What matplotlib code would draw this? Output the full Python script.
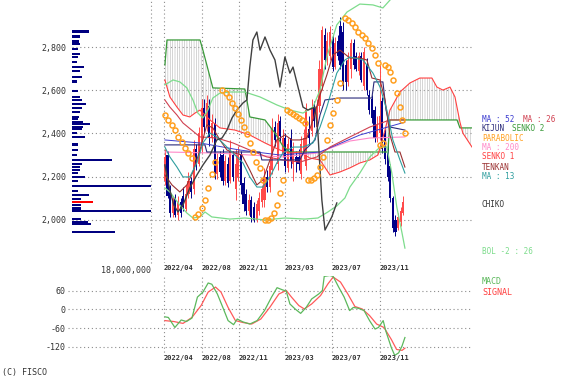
import matplotlib
matplotlib.use("Agg")
import matplotlib.pyplot as plt
from matplotlib.transforms import blended_transform_factory

# weekly candles, week index 0 = first bar on the chart
opens = [2180, 2300, 2140, 2030, 2100, 2020, 2080, 2110, 2050, 2120, 2180, 2140, 2330, 2260, 2350, 2520,
         2440, 2530, 2380, 2450, 2210, 2290, 2300, 2180, 2260, 2180, 2300, 2140, 2200, 2300, 2170, 2120,
         2040, 2090, 2060, 2000, 2040, 2080, 2090, 2200, 2150, 2230, 2430, 2260, 2460, 2310, 2380, 2240,
         2380, 2260, 2290, 2290, 2210, 2300, 2250, 2420, 2410, 2520, 2430, 2530, 2620, 2860, 2740, 2760,
         2840, 2710, 2830, 2900, 2870, 2720, 2640, 2700, 2820, 2760, 2690, 2760, 2620, 2720, 2580, 2560,
         2510, 2380, 2400, 2550, 2400, 2330, 2250, 2100, 2000, 1960, 1990, 2030]
highs = [2330, 2320, 2160, 2110, 2120, 2110, 2100, 2150, 2160, 2220, 2200, 2370, 2350, 2430, 2560, 2560,
         2580, 2560, 2490, 2470, 2310, 2320, 2330, 2300, 2290, 2370, 2320, 2330, 2340, 2320, 2200, 2140,
         2120, 2110, 2080, 2090, 2130, 2160, 2240, 2230, 2280, 2470, 2460, 2490, 2480, 2420, 2400, 2380,
         2420, 2360, 2320, 2330, 2390, 2420, 2540, 2480, 2560, 2550, 2560, 2740, 2900, 2890, 2870, 2900,
         2860, 2850, 2860, 2940, 2920, 2740, 2780, 2840, 2840, 2780, 2780, 2780, 2800, 2750, 2600, 2580,
         2530, 2480, 2720, 2570, 2420, 2350, 2260, 2110, 2020, 2030, 2060, 2110]
lows = [2160, 2100, 2010, 2010, 2010, 2000, 2010, 2040, 2040, 2100, 2100, 2120, 2230, 2250, 2310, 2400,
        2410, 2340, 2360, 2190, 2190, 2200, 2160, 2160, 2150, 2170, 2180, 2090, 2180, 2120, 2040, 2020,
        2020, 1990, 1990, 1990, 2020, 2060, 2060, 2130, 2130, 2210, 2340, 2230, 2360, 2290, 2220, 2220,
        2240, 2180, 2220, 2230, 2190, 2280, 2230, 2350, 2390, 2430, 2400, 2500, 2600, 2700, 2720, 2740,
        2690, 2700, 2740, 2700, 2600, 2600, 2620, 2660, 2700, 2690, 2670, 2640, 2600, 2580, 2490, 2450,
        2360, 2360, 2370, 2310, 2260, 2180, 2080, 1940, 1925, 1950, 1970, 2020]
closes = [2290, 2110, 2030, 2090, 2020, 2080, 2030, 2060, 2120, 2180, 2130, 2330, 2260, 2400, 2520, 2430,
          2540, 2380, 2450, 2210, 2280, 2220, 2180, 2270, 2170, 2320, 2200, 2260, 2300, 2160, 2070, 2040,
          2090, 2010, 2000, 2070, 2100, 2140, 2200, 2150, 2250, 2420, 2370, 2450, 2390, 2380, 2250, 2350,
          2270, 2330, 2270, 2260, 2350, 2380, 2510, 2380, 2520, 2460, 2530, 2700, 2880, 2740, 2830, 2870,
          2710, 2820, 2760, 2720, 2620, 2640, 2740, 2820, 2720, 2700, 2760, 2650, 2780, 2600, 2510, 2470,
          2380, 2440, 2480, 2330, 2280, 2200, 2100, 1960, 1940, 2010, 2040, 2080]

# indicator lines: (week, price) vertices
ma13_w = [0, 1.9, 4.6, 6.9, 9.5, 12.2, 14.5, 17.2, 19.8, 22.1, 24.8, 27.5, 29.8, 32.4, 35.1, 37.4, 40.1,
          42.7, 45.0, 48.9, 52.7, 56.5, 59.2, 61.8, 65.6, 68.7, 70.6, 75.6, 79.4, 82.1, 84.7, 87.0, 89.7, 91.6]
ma13_p = [2337, 2291, 2244, 2198, 2198, 2263, 2356, 2402, 2384, 2356, 2323, 2291, 2263, 2198, 2151, 2151, 2198,
          2263, 2309, 2337, 2337, 2356, 2430, 2523, 2681, 2742, 2756, 2742, 2681, 2616, 2509, 2370, 2277, 2216]
ma26_w = [0, 1.9, 4.6, 6.9, 13.4, 19.8, 26.0, 32.4, 38.9, 45.0, 51.5, 58.0, 63.0, 70.6, 78.2, 85.9, 91.6]
ma26_p = [2556, 2523, 2486, 2449, 2384, 2379, 2356, 2323, 2291, 2277, 2267, 2291, 2337, 2384, 2430, 2463, 2463]
ma52_w = [0, 13.4, 28.6, 43.9, 59.2, 74.4, 91.6]
ma52_p = [2370, 2356, 2323, 2300, 2314, 2393, 2453]
ma200_w = [0, 19.8, 32.4, 45.0, 58.0, 70.6, 78.2, 91.6]
ma200_p = [2314, 2309, 2300, 2291, 2309, 2365, 2379, 2384]

bol_up_w = [0, 3.1, 5.7, 8.4, 10.7, 12.6, 14.5, 16.4, 18.3, 21.0, 24.8, 30.5, 36.3, 42.7, 47.7, 52.7, 56.5,
            59.2, 61.8, 65.6, 69.5, 74.4, 79.4, 83.2, 86.6, 88.9, 91.6]
bol_up_p = [2626, 2649, 2640, 2612, 2556, 2495, 2472, 2509, 2565, 2588, 2593, 2593, 2570, 2533, 2509, 2495, 2523,
            2602, 2756, 2905, 2965, 3002, 2998, 2984, 3030, 3114, 3207]
bol_dn_w = [0, 1.9, 5.7, 8.4, 10.7, 13.4, 15.3, 17.9, 24.8, 30.5, 38.2, 45.8, 53.4, 58.4, 62.2, 65.6, 68.7,
            70.6, 74.4, 78.2, 82.1, 84.7, 86.6, 88.5, 90.5, 91.6]
bol_dn_p = [2147, 2128, 2067, 2030, 2007, 2012, 2035, 2012, 2002, 2007, 1998, 2007, 2002, 2007, 2035, 2063, 2100,
            2151, 2216, 2291, 2337, 2337, 2216, 2058, 1937, 1867]

tenkan_w = [0, 2.7, 5.7, 8.4, 10.7, 13.4, 16.0, 18.3, 21.0, 23.7, 26.7, 29.4, 32.4, 35.1, 37.4, 40.1, 42.7,
            45.8, 48.5, 51.5, 54.2, 56.5, 59.2, 61.8, 64.1, 66.8, 70.6, 74.4, 77.1, 79.0, 82.1, 84.0, 85.9,
            87.8, 89.7, 91.6]
tenkan_p = [2207, 2161, 2128, 2161, 2221, 2323, 2440, 2426, 2370, 2323, 2309, 2300, 2230, 2161, 2184, 2277, 2370,
            2393, 2370, 2370, 2379, 2463, 2579, 2672, 2765, 2788, 2751, 2751, 2742, 2658, 2649, 2556, 2393,
            2314, 2314, 2244]
kijun_w = [0, 15.3, 16.0, 36.3, 37.0, 51.5, 53.4, 57.3, 59.2, 61.1, 66.8, 79.0, 79.8, 83.2, 84.4, 85.9, 91.6]
kijun_p = [2347, 2347, 2314, 2314, 2277, 2277, 2323, 2370, 2486, 2556, 2565, 2565, 2640, 2640, 2509, 2430, 2416]
senko1_w = [0, 1.9, 4.6, 6.9, 9.5, 11.5, 13.4, 17.2, 21.0, 26.7, 32.4, 38.2, 43.9, 47.7, 51.5, 55.3, 59.2,
            63.0, 66.8, 70.6, 74.4, 78.2, 81.3, 84.0, 85.9, 89.7, 93.5, 97.3, 101.9, 103.8, 106.1, 108.8,
            110.7, 112.6, 113.7, 117.2]
senko1_p = [2649, 2570, 2523, 2486, 2477, 2495, 2509, 2463, 2426, 2416, 2393, 2356, 2323, 2309, 2314, 2286, 2277,
            2207, 2221, 2240, 2263, 2277, 2300, 2416, 2509, 2593, 2635, 2658, 2658, 2616, 2602, 2616,
            2570, 2453, 2402, 2337]
senko2_w = [0, 0.8, 13.4, 14.5, 16.0, 18.3, 30.5, 31.3, 32.4, 38.2, 42.0, 45.0, 47.7, 85.1, 85.9, 111.5, 112.6, 117.2]
senko2_p = [2719, 2835, 2835, 2788, 2719, 2612, 2607, 2556, 2477, 2463, 2402, 2342, 2314, 2314, 2463, 2463, 2426, 2426]
chiko_w = [0, 1.9, 3.4, 5.0, 6.9, 9.5, 12.2, 14.5, 17.2, 19.8, 21.8, 23.7, 25.6, 27.5, 29.8, 31.3, 32.4,
           33.6, 35.1, 36.3, 38.2, 40.1, 42.0, 43.9, 45.8, 47.7, 48.9, 50.8, 52.7, 54.6, 57.3, 58.4, 59.9,
           61.1, 63.7, 65.6]
chiko_p = [2254, 2137, 2067, 2035, 2067, 2147, 2207, 2253, 2300, 2370, 2379, 2416, 2472, 2509, 2542, 2556, 2709,
           2835, 2872, 2788, 2849, 2788, 2742, 2616, 2756, 2681, 2709, 2616, 2523, 2509, 2523, 2402, 2091,
           1951, 2012, 2077]
sar_w = [0, 1.1, 2.7, 3.8, 5.0, 6.5, 7.6, 8.8, 10.3,
         11.5, 12.6, 14.1, 15.3, 16.4, 17.9, 19.1,
         21.8, 23.3, 24.4, 25.6, 26.7, 27.9, 29.0, 30.2, 31.3, 32.4, 33.6, 34.7, 36.3, 37.4,
         38.2, 39.3, 40.5, 41.6, 42.7, 43.9, 45.0,
         46.6, 47.7, 48.9, 50.0, 51.1, 52.3, 53.4,
         54.6, 55.7, 56.9, 58.0, 59.2, 60.3, 61.8, 63.0, 64.1, 65.6, 66.8,
         68.7, 69.8, 71.4, 72.5, 73.7, 75.2, 76.3, 77.5, 79.0, 80.2, 81.3,
         82.1, 83.2,
         84.0, 85.1, 85.9, 87.0, 88.5, 89.7, 90.5, 91.6]
sar_p = [2486, 2463, 2440, 2416, 2384, 2360, 2333, 2309, 2286,
         2012, 2026, 2053, 2091, 2147, 2212, 2267,
         2602, 2588, 2570, 2542, 2519, 2491, 2463, 2430, 2398, 2356, 2314, 2267, 2240, 2184,
         1998, 1998, 2007, 2030, 2067, 2123, 2184,
         2509, 2500, 2491, 2481, 2472, 2463, 2449,
         2184, 2184, 2193, 2207, 2244, 2291, 2370, 2440, 2495, 2556, 2635,
         2937, 2928, 2914, 2895, 2872, 2858, 2844, 2821, 2798, 2765, 2728,
         2347, 2356,
         2719, 2709, 2686, 2649, 2588, 2523, 2463, 2402]

# price-by-volume profile (shares)
vp_prices = [2873, 2850, 2827, 2816, 2793, 2770, 2756, 2733, 2709, 2691, 2663, 2640, 2598, 2570, 2556, 2537,
             2519, 2500, 2477, 2467, 2453, 2444, 2430, 2421, 2402, 2384, 2347, 2323, 2300, 2277, 2258, 2244,
             2230, 2216, 2198, 2179, 2156, 2133, 2114, 2095, 2081, 2067, 2053, 2040, 2002, 1988, 1979, 1942]
vp_volumes = [3.9, 1.8, 1.6, 1.8, 1.4, 1.8, 1.4, 1.1, 2.7, 1.8, 2.3, 1.1, 1.4, 1.8, 2.3, 3.2,
              2.3, 1.8, 1.6, 1.4, 2.5, 4.1, 2.5, 2.3, 1.1, 3.0, 1.4, 1.4, 1.1, 9.1, 2.3, 1.8,
              1.8, 1.4, 3.0, 1.4, 18.0, 1.4, 3.9, 2.1, 4.8, 2.1, 2.1, 18.2, 2.1, 3.6, 4.3, 9.8]
current_price = 2081

# MACD panel
macd_w = [0, 1.3, 3.8, 6.2, 8.2, 10.3, 12.4, 14.5, 16.5, 17.9, 20, 22.1, 24.1, 26.2, 27.6, 29.7, 32.4, 35.2,
          38, 40.7, 42.8, 44.9, 46.3, 47.7, 49.7, 51.8, 53.9, 56, 58.7, 60.1, 60.8, 62.9, 64.2, 66.3, 68.4,
          70.5, 71.9, 73.9, 76, 78.1, 80.2, 81.5, 83.3, 84.3, 86.4, 87.7, 89.2, 90.5, 91.6]
macd_v = [-24, -26, -58, -34, -39, -28, 39, 55, 84, 80, 49, 6, -36, -49, -31, -40, -47, -36,
          -4, 39, 69, 62, 58, 17, 1, -13, 6, 33, 49, 60, 105, 108, 105, 71, 39,
          -4, 6, 3, -4, -36, -63, -58, -36, -69, -122, -147, -139, -117, -90]
signal_w = [0, 3.4, 6.9, 10.3, 13.8, 16.5, 19.3, 21.4, 24.1, 26.9, 29.7, 33.1, 36.6, 40, 43.5, 46.3, 48.3,
            51.1, 53.2, 56, 59.4, 62.2, 64.2, 67, 69.8, 72.5, 75.3, 78.1, 80.8, 83.6, 86.4, 88.4, 90.5, 91.6]
signal_v = [-36, -39, -45, -26, 12, 55, 71, 55, 6, -36, -42, -47, -31, 6, 49, 60, 39,
            12, 1, 17, 44, 81, 103, 87, 49, 9, 1, -20, -47, -58, -96, -128, -131, -124]

price_ticks = [2000, 2200, 2400, 2600, 2800]
macd_ticks = [60, 0, -60, -120]
date_ticks = [-0.4, 14.1, 28.2, 45.8, 63.7, 82.1]
date_labels = ["2022/04", "2022/08", "2022/11", "2023/03", "2023/07", "2023/11"]

# right-hand labels: (text, colour, column offset in weeks, price level)
legend_items = [("MA : 52", "#3c3cd0", 0, 2463), ("MA : 26", "#d04050", 15.5, 2463),
                ("KIJUN", "#2a2a7a", 0, 2421), ("SENKO 2", "#3a9a3a", 11.5, 2421),
                ("PARABOLIC", "#ffa020", 0, 2379), ("MA : 200", "#ff88c8", 0, 2337),
                ("SENKO 1", "#ff4040", 0, 2295), ("TENKAN", "#9a3030", 0, 2240),
                ("MA : 13", "#2e9e9e", 0, 2198), ("CHIKO", "#333333", 0, 2072),
                ("BOL -2 : 26", "#7ddc8c", 0, 1853)]

plt.rcParams["font.family"] = ["DejaVu Sans Mono"]
plt.rcParams["hatch.linewidth"] = 0.4

W, H = 568, 384


def px_rect(x0, y0, x1, y1):
  return [x0 / W, 1 - y1 / H, (x1 - x0) / W, (y1 - y0) / H]


fig = plt.figure(figsize=(W / 100, H / 100), dpi=100)
ax_vol = fig.add_axes(px_rect(72, 0, 151, 263))
ax = fig.add_axes(px_rect(151, 0, 472, 263))
ax_macd = fig.add_axes(px_rect(68, 276, 472, 356))

grid_style = dict(color="#8c8c8c", linestyle=(0, (1, 2.5)), linewidth=0.8)
text_color = "#333333"

for a in (ax_vol, ax, ax_macd):
  for s in a.spines.values():
    s.set_visible(False)
  a.patch.set_alpha(0)
  a.tick_params(length=0, labelsize=6, colors=text_color)
  a.set_axisbelow(True)

# price panel
ax.set_xlim(-5.3, 117.2)
ax.set_ylim(1797.7, 3020.9)
ax.set_yticks(price_ticks)
ax.set_xticks(date_ticks)
ax.set_yticklabels([])
ax.set_xticklabels([])
ax.grid(True, **grid_style)

cloud_w = senko1_w + senko2_w[::-1]
cloud_p = senko1_p + senko2_p[::-1]
ax.fill(cloud_w, cloud_p, facecolor="none", edgecolor="#b4b4b4", hatch="|" * 7, linewidth=0, zorder=1)

weeks = list(range(len(closes)))
for i in weeks:
  up = closes[i] >= opens[i]
  col = "#ff4a4a" if up else "#000088"
  ax.vlines(i, lows[i], highs[i], color=col, linewidth=0.7, zorder=2)
  ax.bar(i, abs(closes[i] - opens[i]), bottom=min(opens[i], closes[i]), width=0.8,
         color=col, linewidth=0, zorder=2)

ax.plot(senko2_w, senko2_p, color="#3a9a3a", linewidth=0.9, zorder=3)
ax.plot(senko1_w, senko1_p, color="#ff4040", linewidth=0.8, zorder=3)
ax.plot(bol_up_w, bol_up_p, color="#7ddc8c", linewidth=0.9, zorder=3)
ax.plot(bol_dn_w, bol_dn_p, color="#7ddc8c", linewidth=0.9, zorder=3)
ax.plot(ma200_w, ma200_p, color="#ff88c8", linewidth=0.8, zorder=3)
ax.plot(ma52_w, ma52_p, color="#3c3cd0", linewidth=0.7, zorder=3)
ax.plot(ma26_w, ma26_p, color="#d04050", linewidth=0.8, zorder=3)
ax.plot(kijun_w, kijun_p, color="#2a2a7a", linewidth=0.8, zorder=3)
ax.plot(tenkan_w, tenkan_p, color="#9a3030", linewidth=0.8, zorder=3)
ax.plot(ma13_w, ma13_p, color="#2e9e9e", linewidth=0.8, zorder=3)
ax.plot(chiko_w, chiko_p, color="#404040", linewidth=1.0, zorder=4)
ax.plot(sar_w, sar_p, linestyle="none", marker="o", markersize=3.6, markerfacecolor="none",
        markeredgecolor="#ffa020", markeredgewidth=1.1, zorder=5)

for label, col, dx, y in legend_items:
  ax.text(121.0 + dx, y, label, color=col, fontsize=5.5, va="center", ha="left")

# price-by-volume
ax_vol.set_xlim(0, 18e6)
ax_vol.set_ylim(1797.7, 3020.9)
ax_vol.set_yticks(price_ticks)
ax_vol.set_yticklabels([f"{p:,}" for p in price_ticks])
ax_vol.tick_params(axis="y", pad=4)
ax_vol.set_xticks([18e6])
ax_vol.set_xticklabels(["18,000,000"], ha="right")
ax_vol.tick_params(axis="x", pad=2)
ax_vol.grid(True, axis="y", **grid_style)
ax_vol.axvline(18e6, clip_on=False, **grid_style)
vp_colors = ["#ff0000" if p == current_price else "#000080" for p in vp_prices]
ax_vol.barh(vp_prices, [v * 1e6 for v in vp_volumes], height=13, color=vp_colors, linewidth=0, zorder=3)

# MACD
ax_macd.set_xlim(-37.0, 117.2)
ax_macd.set_ylim(-149, 106.3)
ax_macd.set_yticks(macd_ticks)
ax_macd.set_yticklabels([str(v) for v in macd_ticks])
ax_macd.tick_params(axis="y", pad=2)
ax_macd.set_xticks(date_ticks)
ax_macd.set_xticklabels([])
ax_macd.grid(True, **grid_style)
ax_macd.plot(signal_w, signal_v, color="#ff5a5a", linewidth=0.9)
ax_macd.plot(macd_w, macd_v, color="#5cb85c", linewidth=0.9)
ax_macd.text(121.0, 88, "MACD", color="#5cb85c", fontsize=6, va="center")
ax_macd.text(121.0, 55, "SIGNAL", color="#ff4040", fontsize=6, va="center")

tr = blended_transform_factory(ax_macd.transData, ax_macd.transAxes)
for w, lab in zip(date_ticks, date_labels):
  ax_macd.text(w, 1.1, lab, transform=tr, fontsize=5, fontweight="bold", color=text_color,
               ha="left", va="center")
  ax_macd.text(w, -0.03, lab, transform=tr, fontsize=5, fontweight="bold", color=text_color,
               ha="left", va="center")

fig.text(2 / W, 1 - 372 / H, "(C) FISCO", fontsize=6, color=text_color, va="center")

fig.savefig("out.png", dpi=100)
plt.close(fig)
